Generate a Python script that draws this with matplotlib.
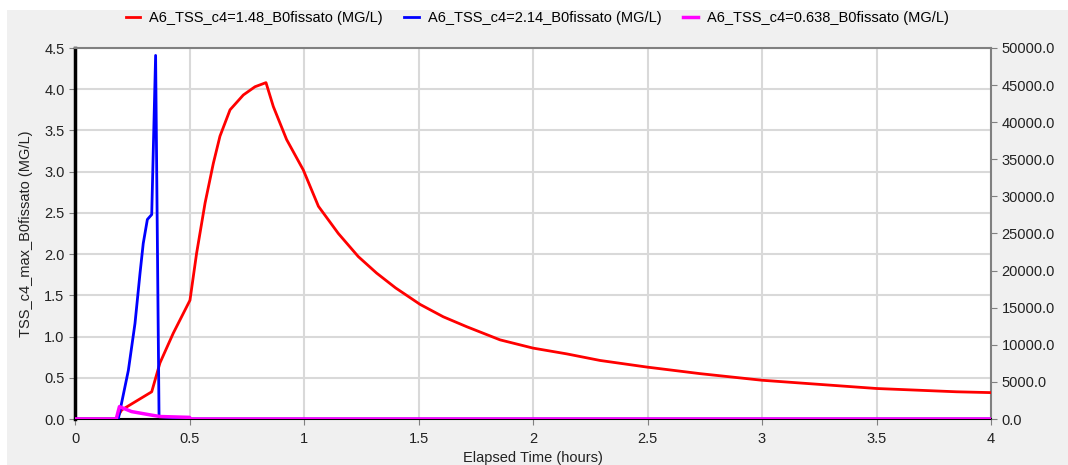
import matplotlib.pyplot as plt
import numpy as np
from matplotlib.patches import Rectangle

# series (time in hours, TSS in MG/L)
red_t = [0.0, 0.18, 0.204, 0.335, 0.371, 0.429, 0.502, 0.531, 0.568, 0.604, 0.633,
         0.677, 0.735, 0.786, 0.834, 0.866, 0.924, 0.997, 1.063, 1.15, 1.237, 1.317,
         1.40, 1.507, 1.608, 1.71, 1.856, 2.0, 2.147, 2.293, 2.497, 2.73,
         3.0, 3.25, 3.5, 3.85, 4.0]
red_v = [0.0, 0.0, 0.11, 0.33, 0.68, 1.04, 1.44, 2.01, 2.62, 3.10, 3.43,
         3.75, 3.93, 4.03, 4.08, 3.79, 3.39, 3.02, 2.58, 2.25, 1.97, 1.77,
         1.59, 1.39, 1.24, 1.12, 0.96, 0.86, 0.79, 0.71, 0.63, 0.55,
         0.47, 0.42, 0.37, 0.33, 0.32]

blue_t = [0.0, 0.189, 0.233, 0.262, 0.284, 0.298, 0.316, 0.335, 0.352, 0.367, 0.5, 4.0]
blue_v = [0.0, 0.0, 0.59, 1.16, 1.77, 2.13, 2.42, 2.48, 4.41, 0.03, 0.0, 0.0]

mag_t = [0.0, 0.18, 0.194, 0.247, 0.328, 0.371, 0.5, 0.505, 4.0]
mag_v = [0.0, 0.0, 0.15, 0.09, 0.05, 0.03, 0.02, 0.0, 0.0]

labels = ['A6_TSS_c4=1.48_B0fissato (MG/L)',
          'A6_TSS_c4=2.14_B0fissato (MG/L)',
          'A6_TSS_c4=0.638_B0fissato (MG/L)']

x_ticks = [0, 0.5, 1, 1.5, 2, 2.5, 3, 3.5, 4]
x_tick_labels = ['0', '0.5', '1', '1.5', '2', '2.5', '3', '3.5', '4']
left_ticks = np.arange(0, 4.51, 0.5)
right_ticks = np.arange(0, 50001, 5000)

plt.rcParams['font.family'] = ['Liberation Sans', 'DejaVu Sans']
fs = 10.5

fig = plt.figure(figsize=(10.68, 4.65), dpi=100)
fig.patch.set_facecolor('white')
# gray panel behind everything
fig.add_artist(Rectangle((7 / 1068, 0), 1, 1 - 10 / 465, transform=fig.transFigure,
                         facecolor='#f0f0f0', edgecolor='none', zorder=-10))

ax = fig.add_axes([75 / 1068, 1 - 419 / 465, (991 - 75) / 1068, (419 - 48) / 465])
ax.set_facecolor('white')

l1, = ax.plot(red_t, red_v, color='#ff0000', linewidth=2, label=labels[0], zorder=3)
l2, = ax.plot(blue_t, blue_v, color='#0000ff', linewidth=2, label=labels[1], zorder=4)
l3, = ax.plot(mag_t, mag_v, color='#ff00ff', linewidth=2.5, label=labels[2], zorder=5)

ax.set_xlim(0, 4)
ax.set_ylim(0, 4.5)
ax.set_xticks(x_ticks)
ax.set_xticklabels(x_tick_labels)
ax.set_yticks(left_ticks)
ax.set_yticklabels([f'{v:.1f}' for v in left_ticks])
ax.grid(True, color='#d9d9d9', linewidth=1.5)
ax.set_axisbelow(True)
ax.tick_params(axis='both', colors='#808080', labelcolor='#222222', length=4, labelsize=fs)
ax.tick_params(axis='x', pad=5)

ax.spines['left'].set_color('black')
ax.spines['left'].set_linewidth(2.5)
ax.spines['bottom'].set_color('black')
ax.spines['bottom'].set_linewidth(1.5)
ax.spines['top'].set_color('#808080')
ax.spines['top'].set_linewidth(1.5)
ax.spines['right'].set_color('#808080')
ax.spines['right'].set_linewidth(1.5)

ax.set_xlabel('Elapsed Time (hours)', fontsize=fs, color='#222222', labelpad=4)
ax.set_ylabel('TSS_c4_max_B0fissato (MG/L)', fontsize=fs, color='#222222', labelpad=8)

ax2 = ax.twinx()
ax2.set_ylim(0, 50000)
ax2.set_yticks(right_ticks)
ax2.set_yticklabels([f'{v:.1f}' for v in right_ticks])
ax2.tick_params(axis='y', colors='#808080', labelcolor='#222222', length=4, labelsize=fs)
for s in ax2.spines.values():
    s.set_visible(False)

fig.legend(handles=[l1, l2, l3], loc='center', bbox_to_anchor=(537 / 1068, 1 - 18 / 465),
           ncol=3, frameon=False, fontsize=fs, handlelength=1.0, columnspacing=1.5,
           handletextpad=0.6)

fig.savefig('out.png', dpi=100)
